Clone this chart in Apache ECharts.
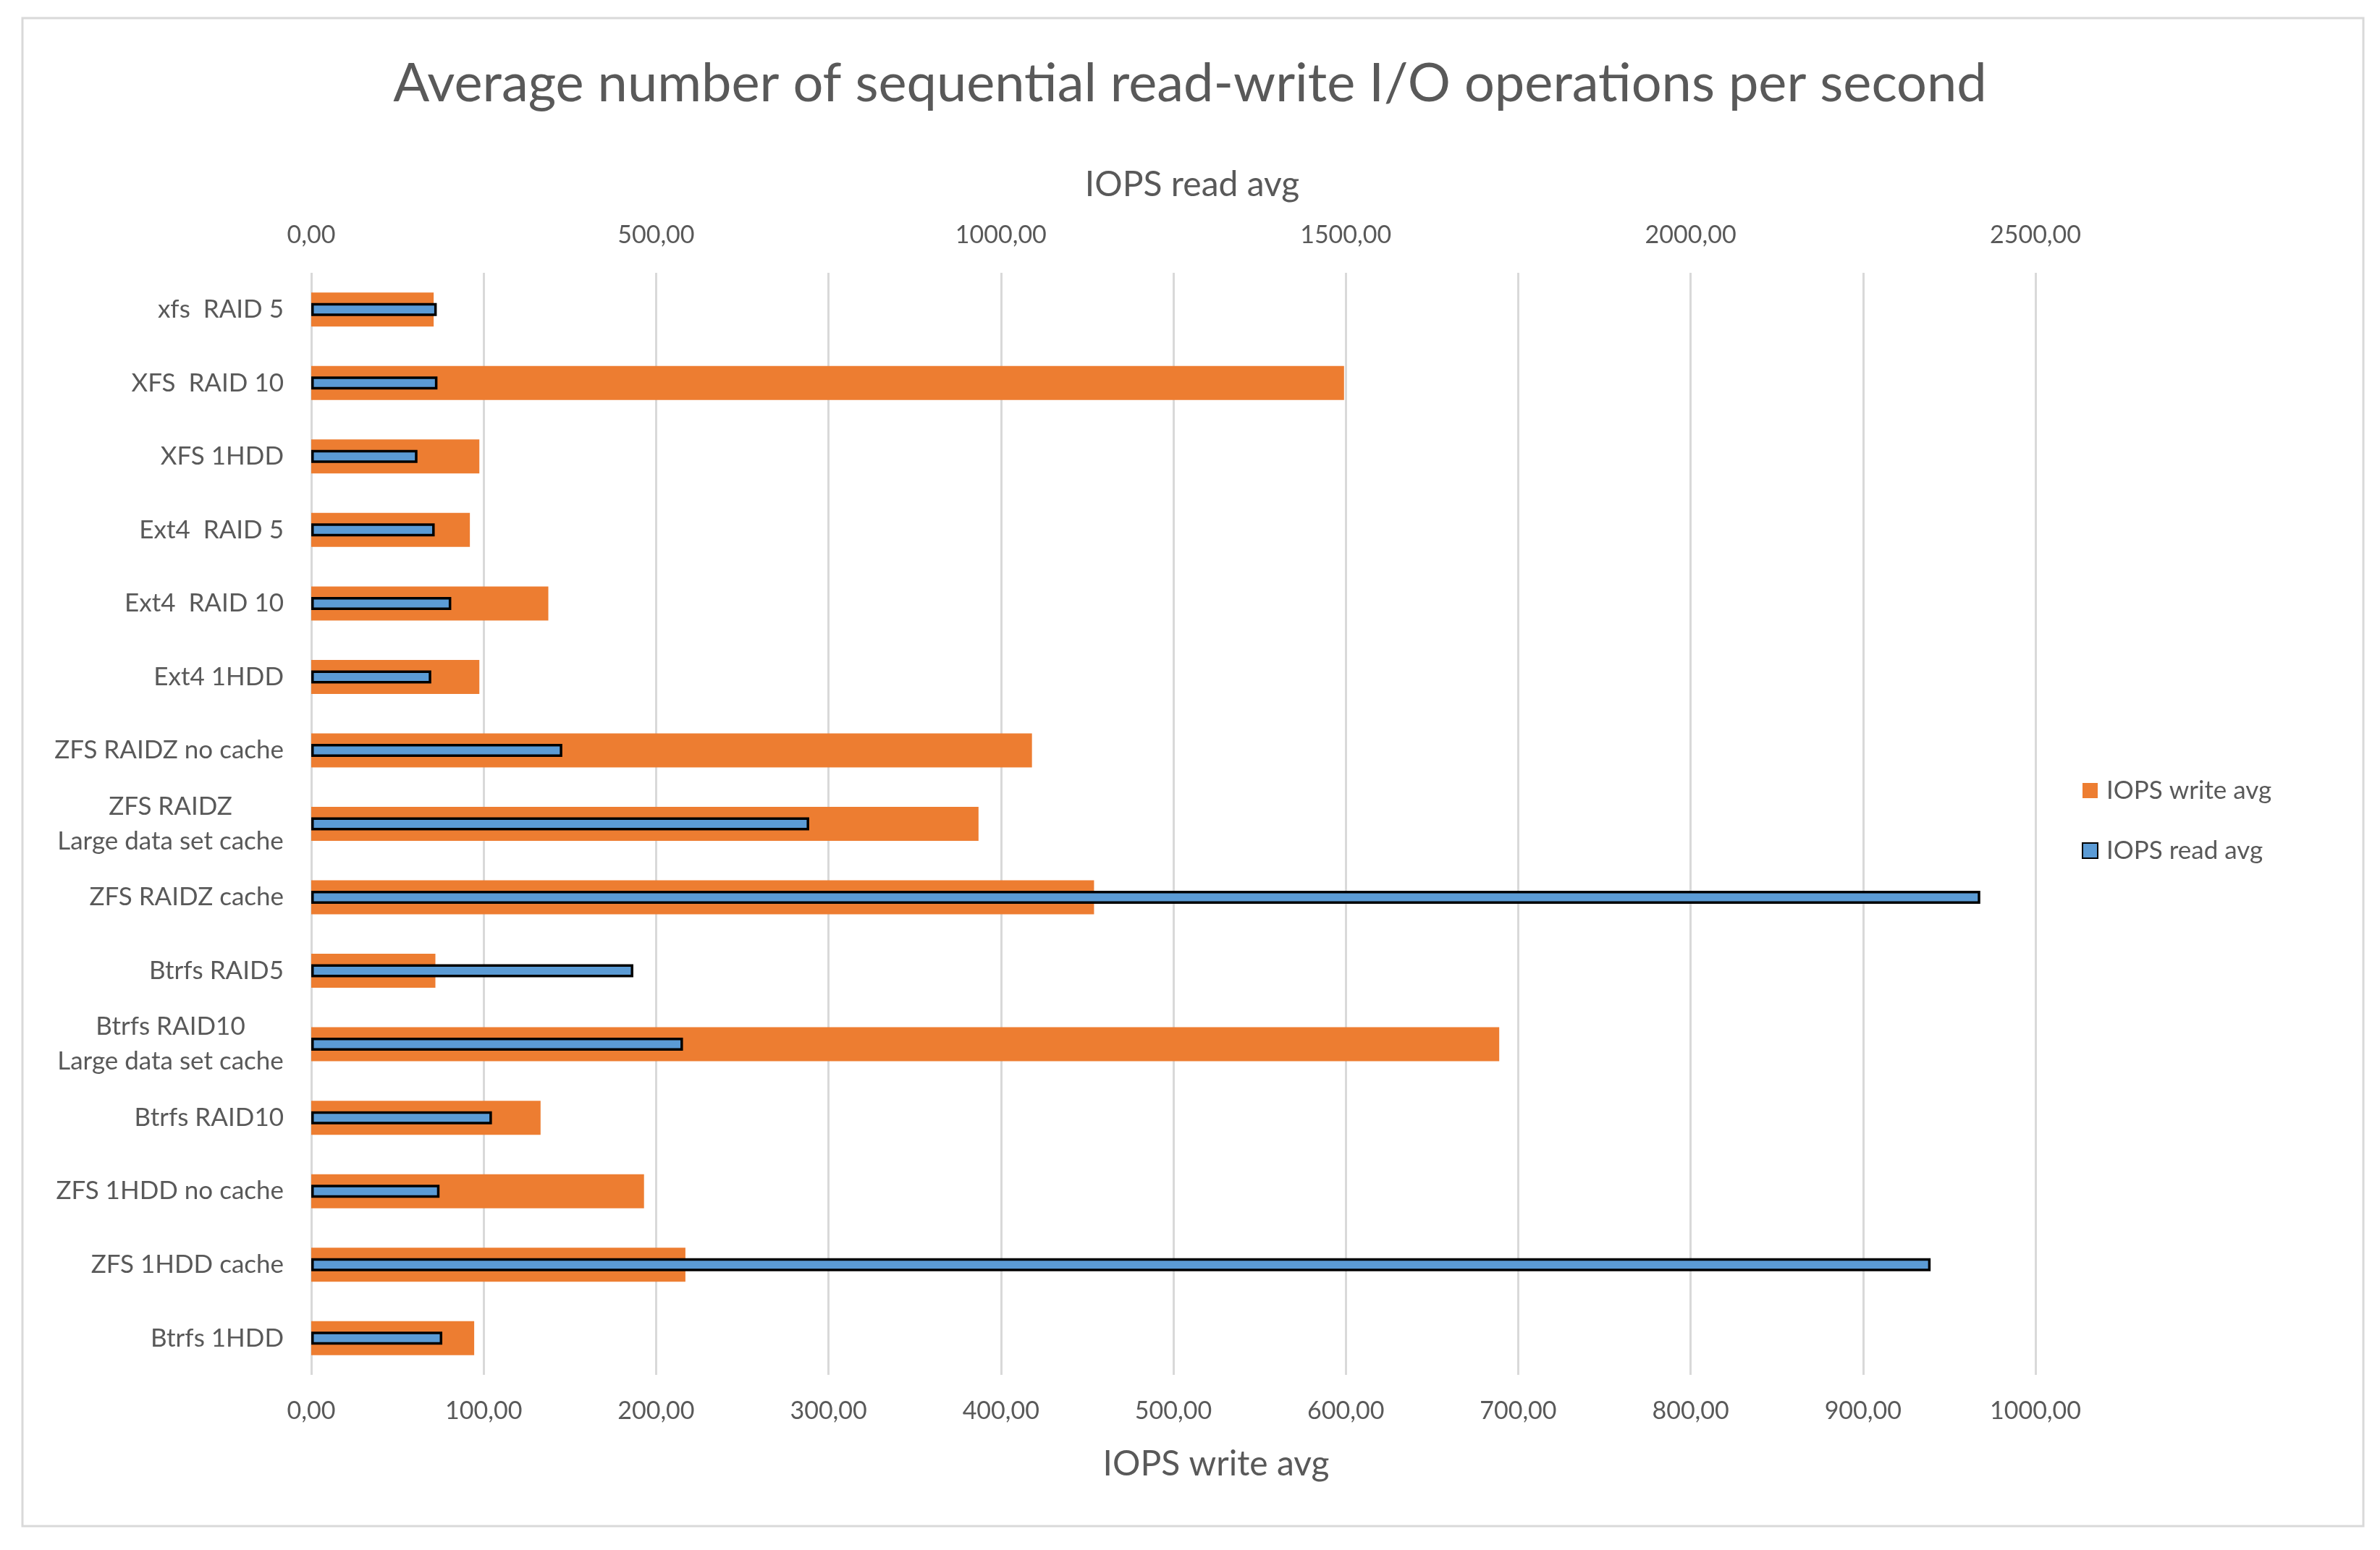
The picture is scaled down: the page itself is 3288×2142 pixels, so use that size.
<!DOCTYPE html>
<html>
<head>
<meta charset="utf-8">
<script src="https://cdn.jsdelivr.net/npm/echarts@6/dist/echarts.min.js"></script>
<style>html,body{margin:0;padding:0;background:#fff}#c{width:3288px;height:2142px}</style>
</head>
<body>
<div id="c"></div>
<script>
const categories = [
  "xfs  RAID 5", "XFS  RAID 10", "XFS 1HDD", "Ext4  RAID 5", "Ext4  RAID 10", "Ext4 1HDD",
  "ZFS RAIDZ no cache", "ZFS RAIDZ\nLarge data set cache", "ZFS RAIDZ cache", "Btrfs RAID5",
  "Btrfs RAID10\nLarge data set cache", "Btrfs RAID10", "ZFS 1HDD no cache", "ZFS 1HDD cache", "Btrfs 1HDD"
];
const writeAvg = [71, 599, 97.5, 92, 137.5, 97.5, 418, 387, 454, 72, 689, 133, 193, 217, 94.5];
const readAvg = [182, 183, 154, 179, 203, 174, 364, 722, 2420, 467, 539, 262, 186, 2348, 190];
const writeTicks = { min: 0, max: 1000, interval: 100 };
const readTicks = { min: 0, max: 2500, interval: 500 };

const FONT = 'Lato';
const GREY = '#595959';
const CAT_SIZE = 35;
const fmt = v => v.toFixed(2).replace('.', ',');

const ctx = document.createElement('canvas').getContext('2d');
ctx.font = CAT_SIZE + 'px ' + FONT;
const multiW = Math.ceil(Math.max(...categories.filter(c => c.includes('\n'))
  .flatMap(c => c.split('\n')).map(s => ctx.measureText(s).width)));

const chart = echarts.init(document.getElementById('c'), null, { renderer: 'canvas' });
chart.setOption({
  backgroundColor: '#fff',
  textStyle: { fontFamily: FONT },
  title: {
    text: 'Average number of sequential read-write I/O operations per second',
    left: 'center', top: 74,
    textStyle: { fontFamily: FONT, fontSize: 74, fontWeight: 'normal', color: GREY, lineHeight: 74 }
  },
  graphic: [{
    type: 'rect', shape: { x: 31, y: 25, width: 3234, height: 2084 },
    style: { fill: 'none', stroke: '#d9d9d9', lineWidth: 3 }, silent: true, z: -1
  }],
  legend: {
    orient: 'vertical', left: 2871, top: 1070,
    itemWidth: 21, itemHeight: 21, itemGap: 48, icon: 'rect',
    textStyle: { fontFamily: FONT, fontSize: 35, color: GREY, lineHeight: 35, padding: [0, 0, 0, 7] },
    data: ['IOPS write avg', 'IOPS read avg']
  },
  grid: { left: 430, right: 476, top: 377, bottom: 242, containLabel: false },
  xAxis: [{
    type: 'value', position: 'bottom',
    min: writeTicks.min, max: writeTicks.max, interval: writeTicks.interval,
    name: 'IOPS write avg', nameLocation: 'middle', nameGap: 100,
    nameTextStyle: { fontFamily: FONT, fontSize: 48, color: GREY, lineHeight: 48, padding: [0, 0, 0, 118] },
    axisLine: { show: false }, axisTick: { show: false },
    axisLabel: { formatter: fmt, fontFamily: FONT, fontSize: 34, color: GREY, lineHeight: 34, margin: 33 },
    splitLine: { show: true, lineStyle: { color: '#d9d9d9', width: 3 } }
  }, {
    type: 'value', position: 'top',
    min: readTicks.min, max: readTicks.max, interval: readTicks.interval,
    name: 'IOPS read avg', nameLocation: 'middle', nameGap: 97,
    nameTextStyle: { fontFamily: FONT, fontSize: 48, color: GREY, lineHeight: 48, padding: [0, 0, 0, 52] },
    axisLine: { show: false }, axisTick: { show: false },
    axisLabel: { formatter: fmt, fontFamily: FONT, fontSize: 34, color: GREY, lineHeight: 34, margin: 35 },
    splitLine: { show: false }
  }],
  yAxis: [{
    type: 'category', inverse: true, data: categories,
    axisLine: { show: false }, axisTick: { show: false },
    axisLabel: {
      fontFamily: FONT, fontSize: CAT_SIZE, color: GREY, lineHeight: 48, margin: 38,
      formatter: v => v.indexOf('\n') >= 0 ? v.split('\n').map(s => '{c|' + s + '}').join('\n') : v,
      rich: { c: { fontFamily: FONT, fontSize: CAT_SIZE, color: GREY, lineHeight: 48, width: multiW, align: 'center' } }
    }
  }, {
    type: 'category', inverse: true, data: categories, show: false
  }],
  series: [{
    name: 'IOPS write avg', type: 'bar', xAxisIndex: 0, yAxisIndex: 0,
    data: writeAvg, barWidth: 47,
    itemStyle: { color: '#ed7d31' }, z: 2
  }, {
    name: 'IOPS read avg', type: 'bar', xAxisIndex: 1, yAxisIndex: 1,
    data: readAvg, barWidth: 18,
    itemStyle: { color: '#5b9bd5', borderColor: '#000', borderWidth: 3.5 }, z: 3
  }]
});
</script>
</body>
</html>
